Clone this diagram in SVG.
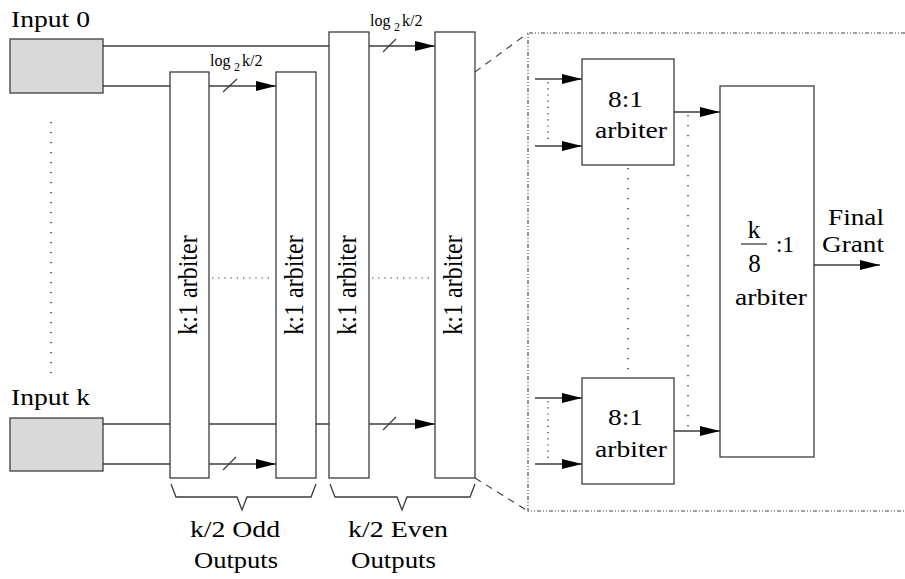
<svg xmlns="http://www.w3.org/2000/svg" width="905" height="579" viewBox="0 0 905 579">
<style>
  .ln{stroke:#3c3c3c;stroke-width:1.3;fill:none}
  .box{stroke:#3c3c3c;stroke-width:1.3;fill:#ffffff}
  .in{stroke:#3c3c3c;stroke-width:1.3;fill:#d9d9d9}
  .dot{stroke:#222;stroke-width:1.3;fill:none;stroke-dasharray:1.3 8.7}
  .dots{stroke:#222;stroke-width:1.2;fill:none;stroke-dasharray:1.2 5}
  .dash{stroke:#3c3c3c;stroke-width:1.1;fill:none;stroke-dasharray:7 6}
  .dd{stroke:#3c3c3c;stroke-width:1.1;fill:none;stroke-dasharray:4 2 1 2 1 2}
  text{font-family:"Liberation Serif","Times New Roman",serif;font-size:24px;fill:#000}
  .sm{font-size:16px}
  .sub{font-size:12px}
</style>
<defs>
  <marker id="ah" markerUnits="userSpaceOnUse" markerWidth="20" markerHeight="10" refX="20" refY="5" orient="auto">
    <path d="M0,0 L20,5 L0,10 z" fill="#000"/>
  </marker>
</defs>

<g id="connectors">
  <line class="ln" x1="103" y1="46" x2="329" y2="46"/>
  <line class="ln" x1="103" y1="86" x2="170" y2="86"/>
  <line class="ln" x1="209" y1="86" x2="276" y2="86" marker-end="url(#ah)"/>
  <line class="ln" x1="223" y1="92" x2="237" y2="79"/>
  <line class="ln" x1="369" y1="46" x2="435" y2="46" marker-end="url(#ah)"/>
  <line class="ln" x1="383" y1="52" x2="396" y2="39"/>
  <line class="ln" x1="103" y1="424" x2="435" y2="424" marker-end="url(#ah)"/>
  <line class="ln" x1="383" y1="430" x2="396" y2="417"/>
  <line class="ln" x1="103" y1="464" x2="170" y2="464"/>
  <line class="ln" x1="209" y1="464" x2="276" y2="464" marker-end="url(#ah)"/>
  <line class="ln" x1="223" y1="470" x2="236" y2="457"/>
  <line class="dot" x1="51" y1="122" x2="51" y2="380"/>
  <line class="dots" x1="212" y1="278" x2="272" y2="278"/>
  <line class="dots" x1="372" y1="278" x2="432" y2="278"/>
  <polyline class="ln" points="171,484 176,497 237,497 242,510 247,497 311,497 316,484"/>
  <polyline class="ln" points="330,484 335,497 397,497 402,510 407,497 470,497 475,484"/>
  <line class="dash" x1="475" y1="72" x2="528" y2="33"/>
  <line class="dash" x1="475" y1="478" x2="528" y2="511"/>
  <polyline class="dd" points="905,33 528,33 528,511 905,511"/>
  <line class="ln" x1="535" y1="79" x2="582" y2="79" marker-end="url(#ah)"/>
  <line class="ln" x1="535" y1="146" x2="582" y2="146" marker-end="url(#ah)"/>
  <line class="dots" x1="548" y1="82" x2="548" y2="140"/>
  <line class="ln" x1="535" y1="398" x2="582" y2="398" marker-end="url(#ah)"/>
  <line class="ln" x1="535" y1="464" x2="582" y2="464" marker-end="url(#ah)"/>
  <line class="dots" x1="548" y1="401" x2="548" y2="459"/>
  <line class="ln" x1="674" y1="112" x2="720" y2="112" marker-end="url(#ah)"/>
  <line class="ln" x1="674" y1="431" x2="720" y2="431" marker-end="url(#ah)"/>
  <line class="dot" x1="628" y1="168" x2="628" y2="370"/>
  <line class="dot" x1="688" y1="115" x2="688" y2="428"/>
  <line class="ln" x1="814" y1="265" x2="880" y2="265" marker-end="url(#ah)"/>
</g>

<g id="input0">
  <rect class="in" x="10" y="39" width="93" height="54"/>
  <text x="11" y="27" textLength="79" lengthAdjust="spacingAndGlyphs">Input 0</text>
</g>
<g id="inputk">
  <rect class="in" x="10" y="418" width="93" height="53"/>
  <text x="11" y="405" textLength="79" lengthAdjust="spacingAndGlyphs">Input k</text>
</g>

<g id="odd1">
  <rect class="box" x="170" y="72" width="39" height="406"/>
  <text transform="translate(197,285) rotate(-90) scale(1,1.15)" text-anchor="middle">k:1 arbiter</text>
</g>
<g id="odd2">
  <rect class="box" x="276" y="72" width="40" height="406"/>
  <text transform="translate(303,285) rotate(-90) scale(1,1.15)" text-anchor="middle">k:1 arbiter</text>
</g>
<g id="even1">
  <rect class="box" x="329" y="32" width="40" height="446"/>
  <text transform="translate(356,285) rotate(-90) scale(1,1.15)" text-anchor="middle">k:1 arbiter</text>
</g>
<g id="even2">
  <rect class="box" x="435" y="32" width="40" height="446"/>
  <text transform="translate(462,285) rotate(-90) scale(1,1.15)" text-anchor="middle">k:1 arbiter</text>
</g>

<g id="labels">
  <text class="sm" x="210" y="66">log</text>
  <text class="sub" x="234" y="71">2</text>
  <text class="sm" x="242" y="66">k/2</text>
  <text class="sm" x="370" y="26">log</text>
  <text class="sub" x="394" y="31">2</text>
  <text class="sm" x="402" y="26">k/2</text>
  <text x="190" y="537" textLength="90" lengthAdjust="spacingAndGlyphs">k/2 Odd</text>
  <text x="194" y="568" textLength="84" lengthAdjust="spacingAndGlyphs">Outputs</text>
  <text x="348" y="537" textLength="100" lengthAdjust="spacingAndGlyphs">k/2 Even</text>
  <text x="351" y="568" textLength="85" lengthAdjust="spacingAndGlyphs">Outputs</text>
</g>

<g id="arb8top">
  <rect class="box" x="582" y="59" width="92" height="106"/>
  <text x="608" y="107" textLength="35" lengthAdjust="spacingAndGlyphs">8:1</text>
  <text x="595" y="138" textLength="72" lengthAdjust="spacingAndGlyphs">arbiter</text>
</g>
<g id="arb8bot">
  <rect class="box" x="582" y="378" width="92" height="106"/>
  <text x="608" y="425" textLength="35" lengthAdjust="spacingAndGlyphs">8:1</text>
  <text x="595" y="457" textLength="72" lengthAdjust="spacingAndGlyphs">arbiter</text>
</g>
<g id="arbfinal">
  <rect class="box" x="720" y="86" width="94" height="371"/>
  <text x="754" y="238" text-anchor="middle" style="font-size:26px">k</text>
  <line class="ln" x1="741" y1="244" x2="767" y2="244"/>
  <text x="754.5" y="272" text-anchor="middle" style="font-size:25px">8</text>
  <text x="776" y="252" textLength="18" lengthAdjust="spacingAndGlyphs">:1</text>
  <text x="735" y="305" textLength="72" lengthAdjust="spacingAndGlyphs">arbiter</text>
</g>
<g id="grant">
  <text x="828" y="225" textLength="56" lengthAdjust="spacingAndGlyphs">Final</text>
  <text x="822" y="252" textLength="62" lengthAdjust="spacingAndGlyphs">Grant</text>
</g>
</svg>
